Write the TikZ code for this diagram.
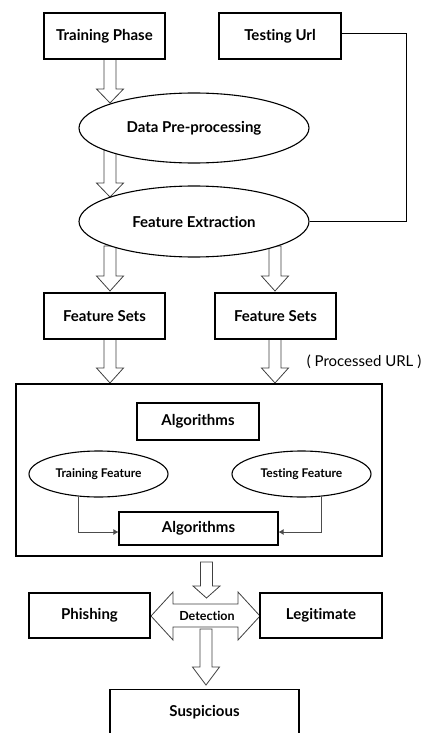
\documentclass[tikz,border=0pt]{standalone}
\usepackage{fontspec}
\setmainfont{Lato}[Ligatures=CommonOff]
\usetikzlibrary{calc,arrows.meta,shapes.geometric}
\newcommand\hdown[4]{% x, top, head start, tip
  \draw[harrow] (#1-6,#2) -- (#1-6,#3) -- (#1-13.5,#3) -- (#1,#4) -- (#1+13.5,#3) -- (#1+6,#3) -- (#1+6,#2) -- cycle;}
\begin{document}
\begin{tikzpicture}[x=1pt,y=-1pt,
  lbl/.style={font=\fontsize{15}{17}\selectfont\bfseries},
  sm/.style={font=\fontsize{12}{14}\selectfont\bfseries},
  box/.style={draw, line width=1.1pt, fill=white, inner sep=0pt, lbl},
  ell/.style={draw, ellipse, line width=1.1pt, fill=white, inner sep=0pt, lbl},
  harrow/.style={draw=black!75, line width=0.8pt, fill=white, line join=miter},
  thin/.style={draw=black!70, line width=0.8pt, -{Latex[length=5pt,width=6pt]}},
  plain/.style={draw, line width=1.1pt}]
\useasboundingbox (0,0) rectangle (426,733);
\clip (0,0) rectangle (426,733);
% hollow arrows
\hdown{110}{59}{89}{103}
\hdown{110}{150}{183}{197}
\hdown{110}{246}{276}{291}
\hdown{275}{246}{276}{291}
\hdown{110}{339}{368}{383}
\hdown{275}{339}{368}{383}
% nodes
\node[box, minimum width=121, minimum height=46] (tp) at (104.5,36) {Training Phase};
\node[box, minimum width=122, minimum height=46] (tu) at (280,36) {Testing Url};
\node[ell, minimum width=230, minimum height=70] (dp) at (194,128) {Data Pre-processing};
\node[ell, minimum width=230, minimum height=71] (fe) at (194,221.5) {Feature Extraction};
\node[box, minimum width=121, minimum height=46] (fs1) at (104.5,316) {Feature Sets};
\node[box, minimum width=121, minimum height=46] (fs2) at (275.5,316) {Feature Sets};
\node[font=\fontsize{15}{17}\selectfont, inner sep=0pt] (proc) at (364,362) {( Processed URL )};
\node[box, minimum width=366, minimum height=172] (big) at (199,470) {};
\node[box, minimum width=122, minimum height=37] (alg1) at (198,421.5) {Algorithms};
\node[ell, sm, minimum width=139, minimum height=46] (tf) at (98.5,474) {Training Feature};
\node[ell, sm, minimum width=139, minimum height=46] (tsf) at (301.5,474) {Testing Feature};
\node[box, minimum width=159, minimum height=33] (alg2) at (198.5,528.5) {Algorithms};
% detection
\hdown{206.5}{562}{586}{598}
\draw[harrow] (151,616) -- (173,592) -- (173,604) -- (238,604) -- (238,592) -- (260,616) -- (238,640) -- (238,627) -- (173,627) -- (173,640) -- cycle;
\node[font=\fontsize{12.5}{14}\selectfont\bfseries, inner sep=0pt] (det) at (207,616) {Detection};
\hdown{206}{629}{667}{685}
\node[box, minimum width=121, minimum height=45] (ph) at (89.5,615.5) {Phishing};
\node[box, minimum width=122, minimum height=45] (lg) at (321,615.5) {Legitimate};
\node[box, minimum width=189, minimum height=0pt, inner ysep=0pt, text height=27pt, text depth=30pt, anchor=north] (sus) at (204.5,689) {Suspicious};
% connectors
\draw[plain] ([yshift=2.5pt]tu.east) -- ++(65,0) |- (fe.east);
\draw[thin] ($(tf.south)+(-20.5,-1)$) |- ([yshift=-3.5pt]alg2.west);
\draw[thin] ($(tsf.south)+(19.5,-1)$) |- ([yshift=-3.5pt]alg2.east);
\end{tikzpicture}
\end{document}
